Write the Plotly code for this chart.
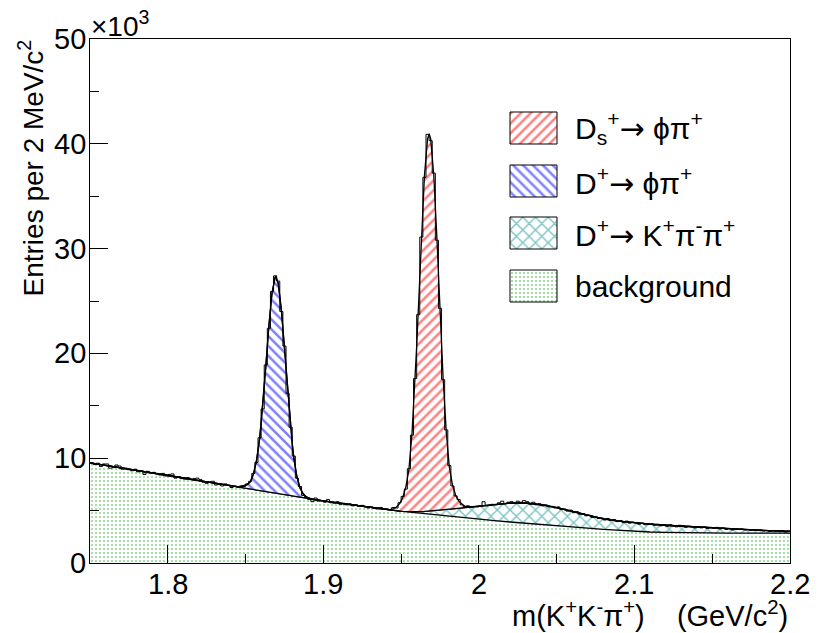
import numpy as np
import plotly.graph_objects as go

# ---- binning of the m(K+K-pi+) histogram [GeV/c^2] ----
m_lo, m_hi, bin_w = 1.75, 2.20, 0.002

# entries per 2 MeV/c^2 bin, in units of 10^3 (225 bins, 1.75 -> 2.20)
entries_k = [
    9.55, 9.40, 9.52, 9.20, 9.45,   9.45, 9.05, 9.10, 9.35, 9.25,
    8.95, 9.05, 8.90, 8.80, 8.95,   8.70, 8.80, 8.45, 8.75, 8.60,
    8.65, 8.55, 8.40, 8.55, 8.30,   8.45, 8.50, 8.10, 8.25, 8.05,
    8.00, 8.15, 7.95, 8.05, 8.10,   7.95, 7.70, 7.60, 7.75, 7.80,
    7.45, 7.50, 7.35, 7.55, 7.40,   7.20, 7.30, 7.25, 7.35, 7.30,
    7.55, 7.80, 8.55, 9.60, 11.95,  14.70, 18.90, 22.40, 25.90, 27.40,
    26.90, 24.00, 20.70, 16.20, 12.95,  10.20, 8.10, 7.30, 6.45, 6.25,
    6.05, 5.85, 6.20, 5.90, 5.95,   5.80, 6.05, 5.75, 5.70, 5.85,
    5.60, 5.70, 5.55, 5.65, 5.45,   5.55, 5.40, 5.50, 5.35, 5.25,
    5.35, 5.20, 5.15, 5.30, 5.10,   5.15, 5.05, 5.30, 5.25, 5.75,
    6.35, 7.05, 9.00, 12.20, 17.60,  23.70, 31.10, 36.80, 40.90, 40.30,
    37.20, 30.80, 24.30, 17.50, 12.70,  9.30, 7.35, 6.40, 6.05, 5.55,
    5.35, 5.45, 5.30, 5.40, 5.35,   5.40, 5.85, 5.45, 5.50, 5.60,
    5.55, 5.75, 5.90, 5.65, 5.80,   5.85, 5.70, 5.90, 5.80, 5.95,
    5.85, 5.60, 5.80, 5.55, 5.65,   5.45, 5.55, 5.35, 5.40, 5.25,
    5.35, 5.10, 5.15, 4.95, 5.05,   4.80, 4.90, 4.65, 4.70, 4.50,
    4.55, 4.35, 4.40, 4.25, 4.30,   4.10, 4.25, 4.05, 4.15, 3.95,
    4.05, 3.85, 4.00, 3.80, 3.90,   3.85, 3.70, 3.80, 3.65, 3.75,
    3.75, 3.60, 3.70, 3.55, 3.65,   3.50, 3.65, 3.55, 3.45, 3.60,
    3.55, 3.40, 3.50, 3.45, 3.35,   3.45, 3.35, 3.45, 3.30, 3.40,
    3.30, 3.40, 3.25, 3.35, 3.20,   3.30, 3.15, 3.25, 3.20, 3.25,
    3.15, 3.20, 3.10, 3.15, 3.10,   3.15, 3.05, 3.10, 3.00, 3.10,
    3.05, 3.00, 3.10, 2.95, 3.05,
]

# ---- fit components (10^3 entries per bin) ----
# combinatorial background, sampled every 10 MeV
bkg_mass = [1.75, 1.76, 1.77, 1.78, 1.79, 1.80, 1.81, 1.82, 1.83, 1.84,
            1.85, 1.86, 1.87, 1.88, 1.89, 1.90, 1.91, 1.92, 1.93, 1.94,
            1.95, 1.96, 1.97, 1.98, 1.99, 2.00, 2.01, 2.02, 2.03, 2.04,
            2.05, 2.06, 2.07, 2.08, 2.09, 2.10, 2.11, 2.12, 2.13, 2.14,
            2.15, 2.16, 2.17, 2.18, 2.19, 2.20]
bkg_k = [9.55, 9.32, 9.08, 8.84, 8.60, 8.36, 8.11, 7.86, 7.61, 7.36,
         7.11, 6.86, 6.61, 6.37, 6.14, 5.92, 5.71, 5.50, 5.30, 5.11,
         4.94, 4.78, 4.62, 4.47, 4.32, 4.18, 4.04, 3.91, 3.78, 3.66,
         3.54, 3.43, 3.32, 3.21, 3.11, 3.02, 2.96, 2.92, 2.89, 2.87,
         2.86, 2.85, 2.85, 2.85, 2.85, 2.85]

# D+ -> K+ pi- pi+ reflection
kpp_mass = [1.95, 1.96, 1.97, 1.98, 1.99, 2.00, 2.01, 2.02, 2.03, 2.04,
            2.05, 2.06, 2.07, 2.08, 2.09, 2.10, 2.11, 2.12, 2.13, 2.14,
            2.15, 2.16, 2.17, 2.18, 2.19, 2.20]
kpp_k = [0.00, 0.10, 0.35, 0.65, 0.95, 1.25, 1.55, 1.80, 1.95, 1.90,
         1.75, 1.50, 1.20, 1.00, 0.88, 0.80, 0.74, 0.68, 0.62, 0.58,
         0.50, 0.42, 0.35, 0.28, 0.22, 0.17]

# D+ -> phi pi+ signal
dp_mass = [1.843, 1.845, 1.847, 1.849, 1.851, 1.853, 1.855, 1.857, 1.859,
           1.861, 1.863, 1.865, 1.867, 1.869, 1.8695, 1.871, 1.873, 1.875,
           1.877, 1.879, 1.881, 1.883, 1.885, 1.887, 1.889, 1.891, 1.893]
dp_k = [0.00, 0.05, 0.12, 0.25, 0.40, 0.70, 1.45, 2.80, 4.93,
        8.09, 11.95, 15.91, 19.08, 20.63, 20.70, 20.10, 17.65, 13.97,
        9.96, 6.40, 3.71, 1.93, 0.91, 0.39, 0.15, 0.05, 0.00]

# Ds+ -> phi pi+ signal
ds_mass = [1.941, 1.943, 1.945, 1.947, 1.949, 1.951, 1.953, 1.955, 1.957,
           1.959, 1.961, 1.963, 1.965, 1.967, 1.968, 1.969, 1.971, 1.973,
           1.975, 1.977, 1.979, 1.981, 1.983, 1.985, 1.987, 1.989, 1.991,
           1.993, 1.995]
ds_k = [0.00, 0.05, 0.15, 0.35, 0.70, 1.30, 2.30, 4.00, 7.46,
        12.55, 19.03, 26.01, 32.02, 35.53, 36.00, 35.53, 32.02, 26.01,
        19.03, 12.55, 7.46, 4.00, 2.30, 1.30, 0.70, 0.35, 0.15,
        0.05, 0.00]

y_tick_vals = [0, 10, 20, 30, 40, 50]
y_tick_text = ["0", "10", "20", "30", "40", "50"]
x_tick_vals = [1.8, 1.9, 2.0, 2.1, 2.2]
x_tick_text = ["1.8", "1.9", "2", "2.1", "2.2"]

ARROW = "<span style='font-family:DejaVu Sans'>\u2192</span>"
PHI, PI = "\u03d5", "\u03c0"
NB = "\u00a0"
legend_labels = [f"D<sub>s</sub><sup>+</sup>{ARROW} {PHI}{PI}<sup>+</sup>",
                 f"D<sup>+</sup>{ARROW} {PHI}{PI}<sup>+</sup>",
                 f"D<sup>+</sup>{ARROW} K<sup>+</sup>{PI}<sup>-</sup>{PI}<sup>+</sup>",
                 "background"]

FONT = "Liberation Sans, Arial, Helvetica, sans-serif"
RED, BLUE, TEAL, GREEN = "#ff0000", "#0000ff", "#008b8b", "#22aa22"

pat_ds = dict(shape="/", fgcolor=RED, bgcolor="white", size=7, solidity=0.36)
pat_dp = dict(shape="\\", fgcolor=BLUE, bgcolor="white", size=7, solidity=0.36)
pat_kpp = dict(shape="x", fgcolor=TEAL, bgcolor="white", size=9, solidity=0.3)
pat_bkg = dict(shape=".", fgcolor=GREEN, bgcolor="white", size=4, solidity=0.22)

fig = go.Figure()

fit_line = dict(color="black", width=1.3)
common = dict(mode="lines", stackgroup="fit", line=fit_line, hoverinfo="skip",
              showlegend=False, fillcolor="white")

fig.add_trace(go.Scatter(x=bkg_mass, y=bkg_k, fill="tozeroy", fillpattern=pat_bkg,
                         stackgaps="interpolate", **common))
fig.add_trace(go.Scatter(x=kpp_mass, y=kpp_k, fill="tonexty", fillpattern=pat_kpp, **common))
fig.add_trace(go.Scatter(x=dp_mass, y=dp_k, fill="tonexty", fillpattern=pat_dp, **common))
fig.add_trace(go.Scatter(x=ds_mass, y=ds_k, fill="tonexty", fillpattern=pat_ds, **common))

# data histogram drawn as steps over bin edges
n_bins = len(entries_k)
edges = m_lo + bin_w * np.arange(n_bins + 1)
fig.add_trace(go.Scatter(x=edges, y=list(entries_k) + [entries_k[-1]],
                         mode="lines", line=dict(color="black", width=1, shape="hv"),
                         hoverinfo="skip", showlegend=False))

# legend boxes, drawn on a pixel-coordinate overlay
boxes = [(112, 144), (165, 197), (217, 249), (270, 302)]
pats = [pat_ds, pat_dp, pat_kpp, pat_bkg]
bx0, bx1 = 510, 557
for (y0, y1), p in zip(boxes, pats):
    fig.add_trace(go.Scatter(x=[bx0, bx1, bx1, bx0, bx0], y=[y0, y0, y1, y1, y0],
                             mode="lines", fill="toself", fillcolor="white", fillpattern=p,
                             line=dict(color="black", width=1),
                             xaxis="x2", yaxis="y2", hoverinfo="skip", showlegend=False))

ann = []
for (y0, y1), lab in zip(boxes, legend_labels):
    ann.append(dict(x=573, y=(y0 + y1) / 2, xref="x2", yref="y2", text=lab,
                    showarrow=False, xanchor="left", yanchor="middle",
                    font=dict(family=FONT, size=30, color="black")))

# tick labels, placed on the axis scales
for v, t in zip(y_tick_vals, y_tick_text):
    ann.append(dict(x=0, y=v, xref="paper", yref="y", text=t, showarrow=False,
                    xanchor="right", yanchor="middle", xshift=-2,
                    font=dict(family=FONT, size=29, color="black")))
for v, t in zip(x_tick_vals, x_tick_text):
    ann.append(dict(x=v, y=0, xref="x", yref="paper", text=t, showarrow=False,
                    xanchor="center", yanchor="middle", yshift=-21,
                    font=dict(family=FONT, size=29, color="black")))

# axis titles and exponent label
ann.append(dict(x=(32 - 90) / 700, y=(563 - 38) / 524, xref="paper", yref="paper",
                text="Entries per 2 MeV/c<sup>2</sup>",
                textangle=-90, showarrow=False, xanchor="center", yanchor="top",
                font=dict(family=FONT, size=28, color="black")))
ann.append(dict(x=(789 - 90) / 700, y=(563 - 633) / 524, xref="paper", yref="paper",
                text=f"m(K<sup>+</sup>K<sup>-</sup>{PI}<sup>+</sup>){NB * 4}(GeV/c<sup>2</sup>)",
                showarrow=False, xanchor="right", yanchor="bottom", borderpad=0,
                font=dict(family=FONT, size=29, color="black")))
ann.append(dict(x=(89 - 90) / 700, y=(563 - 44) / 524, xref="paper", yref="paper",
                text="\u00d710<sup>3</sup>",
                showarrow=False, xanchor="left", yanchor="bottom",
                font=dict(family=FONT, size=28, color="black")))

fig.update_layout(
    width=823, height=633,
    margin=dict(l=90, r=33, t=39, b=70),
    paper_bgcolor="white", plot_bgcolor="white",
    showlegend=False,
    annotations=ann,
    xaxis=dict(range=[m_lo, m_hi], dtick=0.1, tick0=1.8, ticks="inside", ticklen=18,
               tickwidth=1, tickcolor="black", showline=True, linecolor="black",
               linewidth=1, mirror=True, showgrid=False, zeroline=False,
               showticklabels=False,
               minor=dict(dtick=0.05, ticks="inside", ticklen=9, tickcolor="black",
                          tickwidth=1, showgrid=False)),
    yaxis=dict(range=[0, 50], dtick=10, ticks="inside", ticklen=18, tickwidth=1,
               tickcolor="black", showline=True, linecolor="black", linewidth=1,
               mirror=True, showgrid=False, zeroline=False, showticklabels=False,
               minor=dict(dtick=5, ticks="inside", ticklen=9, tickcolor="black",
                          tickwidth=1, showgrid=False)),
    xaxis2=dict(overlaying="x", anchor="y2", range=[90, 790], visible=False),
    yaxis2=dict(overlaying="y", anchor="x2", range=[563, 39], visible=False),
)

fig.write_html("out.html")
